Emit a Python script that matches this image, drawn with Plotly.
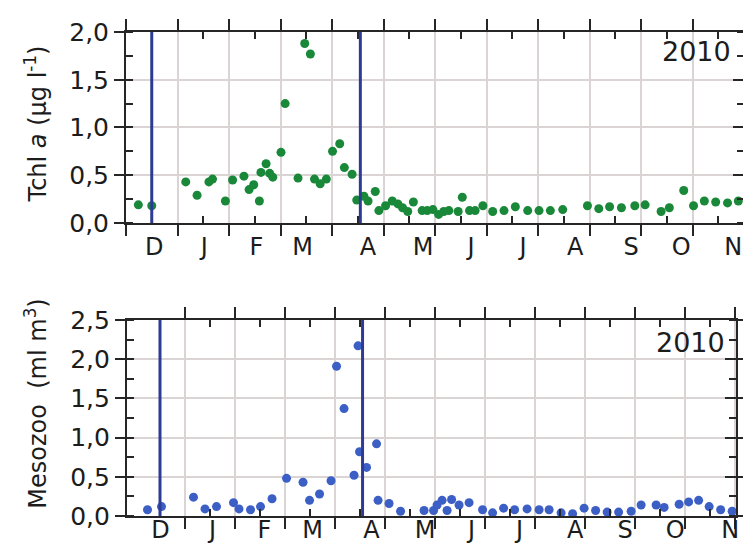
import plotly.graph_objects as go

# ---------------- data (x in months since 1 Dec 2009) ----------------
month_labels = ["D", "J", "F", "M", "A", "M", "J", "J", "A", "S", "O", "N"]
label_pos_top = [0.55, 1.52, 2.53, 3.43, 4.70, 5.77, 6.70, 7.71, 8.72, 9.81, 10.78, 11.79]
label_pos_bot = [0.51, 1.55, 2.59, 3.55, 4.73, 5.80, 6.73, 7.69, 8.80, 9.80, 10.80, 11.90]

chl_month = [0.24, 0.50, 1.16, 1.38, 1.61, 1.68, 1.93, 2.07, 2.29, 2.39, 2.48, 2.59,
             2.62, 2.72, 2.79, 2.85, 3.01, 3.09, 3.34, 3.47, 3.58, 3.66, 3.77, 3.89,
             4.01, 4.15, 4.24, 4.39, 4.48, 4.62, 4.70, 4.84, 4.91, 5.04, 5.17, 5.28,
             5.37, 5.47, 5.58, 5.75, 5.85, 5.96, 6.07, 6.17, 6.27, 6.45, 6.53, 6.67,
             6.78, 6.93, 7.12, 7.34, 7.56, 7.80, 8.02, 8.24, 8.48, 8.96, 9.18, 9.39,
             9.62, 9.88, 10.08, 10.39, 10.55, 10.83, 11.02, 11.23, 11.45, 11.68, 11.89]
chl_value = [0.19, 0.18, 0.43, 0.29, 0.43, 0.46, 0.23, 0.45, 0.49, 0.35, 0.40, 0.23,
             0.53, 0.62, 0.52, 0.48, 0.74, 1.25, 0.47, 1.88, 1.77, 0.46, 0.41, 0.46,
             0.75, 0.83, 0.58, 0.51, 0.24, 0.28, 0.23, 0.33, 0.13, 0.18, 0.23, 0.20,
             0.16, 0.12, 0.22, 0.13, 0.13, 0.14, 0.09, 0.12, 0.13, 0.12, 0.27, 0.13,
             0.13, 0.18, 0.12, 0.13, 0.17, 0.13, 0.13, 0.13, 0.14, 0.18, 0.15, 0.17,
             0.16, 0.18, 0.19, 0.12, 0.16, 0.34, 0.18, 0.23, 0.22, 0.21, 0.23]

zoo_month = [0.25, 0.53, 1.17, 1.40, 1.63, 1.97, 2.08, 2.31, 2.51, 2.74, 3.03, 3.36,
             3.49, 3.69, 3.92, 4.03, 4.18, 4.38, 4.46, 4.49, 4.63, 4.83, 4.86, 5.08,
             5.31, 5.78, 5.97, 6.04, 6.14, 6.24, 6.33, 6.48, 6.68, 6.95, 7.15, 7.37,
             7.59, 7.84, 8.08, 8.28, 8.52, 8.75, 8.98, 9.21, 9.44, 9.67, 9.92, 10.12,
             10.42, 10.58, 10.88, 11.07, 11.27, 11.48, 11.71, 11.94]
zoo_value = [0.08, 0.12, 0.24, 0.09, 0.12, 0.17, 0.09, 0.08, 0.12, 0.22, 0.48, 0.43,
             0.20, 0.28, 0.45, 1.91, 1.37, 0.52, 2.17, 0.82, 0.62, 0.92, 0.20, 0.16,
             0.06, 0.07, 0.07, 0.14, 0.20, 0.07, 0.21, 0.14, 0.17, 0.08, 0.04, 0.10,
             0.08, 0.09, 0.08, 0.08, 0.04, 0.03, 0.10, 0.07, 0.05, 0.05, 0.06, 0.14,
             0.14, 0.11, 0.15, 0.18, 0.20, 0.12, 0.08, 0.06]

event_month = [0.5, 4.55]
year_label = "2010"
chl_title = "Tchl <i>a</i> (µg l<sup>-1</sup>)"
zoo_title = "Mesozoo\u00a0 (ml m<sup>3</sup>)"

# ---------------- styling ----------------
FONT = "DejaVu Sans"
TXT = "#1c1c1c"
AX = "#262626"
GRID = "#dbd4d4"
GREEN = "#1a8839"
BLUE = "#3c5fc6"
EVENT = "#2d3b95"

fig = go.Figure()
fig.add_trace(go.Scatter(x=chl_month, y=chl_value, mode="markers",
                         marker=dict(color=GREEN, size=9), xaxis="x", yaxis="y",
                         showlegend=False, hoverinfo="x+y"))
fig.add_trace(go.Scatter(x=zoo_month, y=zoo_value, mode="markers",
                         marker=dict(color=BLUE, size=9), xaxis="x2", yaxis="y2",
                         showlegend=False, hoverinfo="x+y"))
# empty traces so overlay axes get their subplots
for xa, ya in [("x3", "y"), ("x4", "y2"), ("x", "y3"), ("x2", "y4")]:
    fig.add_trace(go.Scatter(x=[None], y=[None], xaxis=xa, yaxis=ya,
                             showlegend=False, hoverinfo="skip"))

top_dom_y = [0.6054, 1.0]
bot_dom_y = [0.0, 0.405]
bot_dom_x = [0.0016, 0.9873]
top_range_x = [0, 12]
bot_range_x = [-0.16, 12.02]

def main_x(domain, rng, anchor, tickvals, minorvals):
    return dict(domain=domain, range=rng, anchor=anchor,
                tickmode="array", tickvals=tickvals, showticklabels=False,
                ticks="outside", ticklen=11, tickwidth=2, tickcolor=AX,
                showline=True, linewidth=2, linecolor=AX, mirror="ticks",
                showgrid=True, gridcolor=GRID, gridwidth=1.5, zeroline=False,
                minor=dict(tickmode="array", tickvals=minorvals, ticks="inside",
                           ticklen=7, tickwidth=2, tickcolor=AX, showgrid=False))

def label_x(over, anchor, rng, pos, standoff):
    return dict(overlaying=over, anchor=anchor, side="bottom", range=rng,
                tickmode="array", tickvals=pos, ticktext=month_labels,
                ticks="", ticklabelstandoff=standoff,
                showline=False, showgrid=False, zeroline=False,
                tickfont=dict(family=FONT, size=24, color=TXT))

def main_y(domain, rng, anchor):
    return dict(domain=domain, range=rng, anchor=anchor,
                tickmode="linear", tick0=0, dtick=0.5, tickformat=".1f",
                ticks="outside", ticklen=10, tickwidth=2, tickcolor=AX,
                showline=True, linewidth=2, linecolor=AX, mirror="ticks",
                showgrid=True, gridcolor=GRID, gridwidth=1.5, zeroline=False,
                tickfont=dict(family=FONT, size=25, color=TXT),
                minor=dict(dtick=0.25, ticks="inside", ticklen=7, tickwidth=2,
                           tickcolor=AX, showgrid=False))

def right_y(over, anchor, rng):
    return dict(overlaying=over, anchor=anchor, side="right", range=rng,
                tickmode="linear", tick0=0, dtick=0.5, showticklabels=False,
                ticks="inside", ticklen=11, tickwidth=2, tickcolor=AX,
                showline=False, showgrid=False, zeroline=False)

top_major = list(range(0, 13))
top_minor = [m + 0.5 for m in range(0, 12)]
bot_major = list(range(1, 13))
bot_minor = [m + 0.5 for m in range(0, 12)]

fig.update_layout(
    width=751, height=554,
    margin=dict(l=118, r=3, t=24, b=46),
    paper_bgcolor="white", plot_bgcolor="white",
    separators=",.",
    font=dict(family=FONT, color=TXT),
    xaxis=main_x([0, 1], top_range_x, "y", top_major, top_minor),
    yaxis=main_y(top_dom_y, [0, 2.0], "x"),
    xaxis2=main_x(bot_dom_x, bot_range_x, "y2", bot_major, bot_minor),
    yaxis2=main_y(bot_dom_y, [0, 2.5], "x2"),
    xaxis3=label_x("x", "y", top_range_x, label_pos_top, 7),
    xaxis4=label_x("x2", "y2", bot_range_x, label_pos_bot, -3),
    yaxis3=right_y("y", "x", [0, 2.0]),
    yaxis4=right_y("y2", "x2", [0, 2.5]),
)

shapes = []
for xr in ["x", "x2"]:
    for m in event_month:
        shapes.append(dict(type="line", xref=xr, yref=("y" if xr == "x" else "y2") + " domain",
                           x0=m, x1=m, y0=0, y1=1,
                           line=dict(color=EVENT, width=3)))
fig.update_layout(shapes=shapes)

fig.add_annotation(text=year_label, xref="x domain", yref="y domain", x=0.983, y=0.90,
                   xanchor="right", yanchor="middle", showarrow=False,
                   font=dict(family=FONT, size=27, color=TXT))
fig.add_annotation(text=year_label, xref="x2 domain", yref="y2 domain", x=0.985, y=0.885,
                   xanchor="right", yanchor="middle", showarrow=False,
                   font=dict(family=FONT, size=27, color=TXT))
fig.add_annotation(text=chl_title, xref="paper", yref="y domain", x=-0.145, y=0.518,
                   xanchor="center", yanchor="middle", textangle=-90, showarrow=False,
                   font=dict(family=FONT, size=24, color=TXT))
fig.add_annotation(text=zoo_title, xref="paper", yref="y2 domain", x=-0.145, y=0.575,
                   xanchor="center", yanchor="middle", textangle=-90, showarrow=False,
                   font=dict(family=FONT, size=24, color=TXT))

fig.write_html("out.html")
